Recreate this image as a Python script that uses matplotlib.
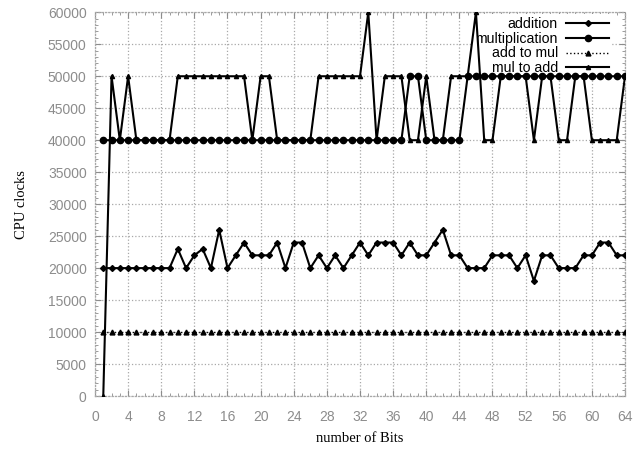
#!/usr/bin/env python3
"""CPU clocks per operation vs number of bits (gnuplot-style line chart)."""

import matplotlib
matplotlib.use('Agg')
import matplotlib.pyplot as plt
from matplotlib.ticker import MultipleLocator

# ----------------------------------------------------------------------------
# Data
# ----------------------------------------------------------------------------
bits = list(range(1, 65))

addition = [20000] * 9 + [
    23000, 20000, 22000, 23000, 20000, 26000, 20000, 22000, 24000,   # 10-18
    22000, 22000, 22000, 24000, 20000, 24000, 24000, 20000, 22000,   # 19-27
    20000, 22000, 20000, 22000, 24000, 22000, 24000, 24000, 24000,   # 28-36
    22000, 24000, 22000, 22000, 24000, 26000, 22000, 22000, 20000,   # 37-45
    20000, 20000, 22000, 22000, 22000, 20000, 22000, 18000, 22000,   # 46-54
    22000, 20000, 20000, 20000, 22000, 22000, 24000, 24000, 22000,   # 55-63
    22000,                                                           # 64
]

multiplication = ([40000] * 37 + [50000] * 2 + [40000] * 5 + [50000] * 20)

add_to_mul = [10000] * 64

mul_to_add = (
    [0, 50000, 40000, 50000]
    + [40000] * 5 + [50000] * 9 + [40000] + [50000] * 2     # 5-21
    + [40000] * 5 + [50000] * 6 + [60000] + [40000]         # 22-34
    + [50000] * 3 + [40000] * 2 + [50000] + [40000] * 2     # 35-42
    + [50000] * 3 + [60000] + [40000] * 2 + [50000] * 4     # 43-52
    + [40000] + [50000] * 2 + [40000] * 2 + [50000] * 2     # 53-59
    + [40000] * 4 + [50000]                                 # 60-64
)

# ----------------------------------------------------------------------------
# Figure
# ----------------------------------------------------------------------------
plt.rcParams['font.family'] = ['Liberation Sans', 'DejaVu Sans']

fig = plt.figure(figsize=(6.44, 4.49), dpi=100)
ax = fig.add_axes([0.1475, 0.118, 0.8230, 0.8546])

lw = 1.5
ax.plot(bits, addition, '-', color='black', lw=lw, marker='D', ms=3,
        label='addition', zorder=3)
ax.plot(bits, multiplication, '-', color='black', lw=lw, marker='o', ms=4.5,
        label='multiplication', zorder=3)
ax.plot(bits, add_to_mul, ':', color='black', lw=1.0, marker='^', ms=3.5,
        label='add to mul', zorder=3)
ax.plot(bits, mul_to_add, '-', color='black', lw=lw, marker='^', ms=3,
        label='mul to add', zorder=3)

ax.set_xlim(0, 64)
ax.set_ylim(0, 60000)
ax.xaxis.set_major_locator(MultipleLocator(4))
ax.xaxis.set_minor_locator(MultipleLocator(1))
ax.yaxis.set_major_locator(MultipleLocator(5000))
ax.yaxis.set_minor_locator(MultipleLocator(1000))

gray = '#8c8c8c'
ax.grid(True, which='major', color='#a8a8a8', linestyle=':', lw=0.9)
ax.tick_params(which='both', direction='in', color=gray, top=True, right=True,
               labelcolor=gray, labelsize=10)
ax.tick_params(which='major', length=4)
ax.tick_params(which='minor', length=2)
ax.tick_params(axis='x', which='major', pad=10)
ax.tick_params(axis='y', which='major', pad=6)
for sp in ax.spines.values():
    sp.set_color('#a8a8a8')
    sp.set_linestyle(':')
    sp.set_linewidth(0.9)

ax.set_xlabel('number of Bits', family='Liberation Serif', fontsize=10.5,
              labelpad=6)
ax.set_ylabel('CPU clocks', family='Liberation Serif', fontsize=10.5,
              labelpad=14)

leg = ax.legend(loc='upper right', bbox_to_anchor=(0.975, 0.995),
                markerfirst=False, numpoints=1, handlelength=3.0,
                handletextpad=0.6, labelspacing=0.05, borderpad=0.2,
                borderaxespad=0, fontsize=10.2, frameon=True,
                fancybox=False, edgecolor='none', facecolor='white',
                framealpha=1.0)
leg.set_zorder(2.5)

fig.savefig('out.png', dpi=100)
